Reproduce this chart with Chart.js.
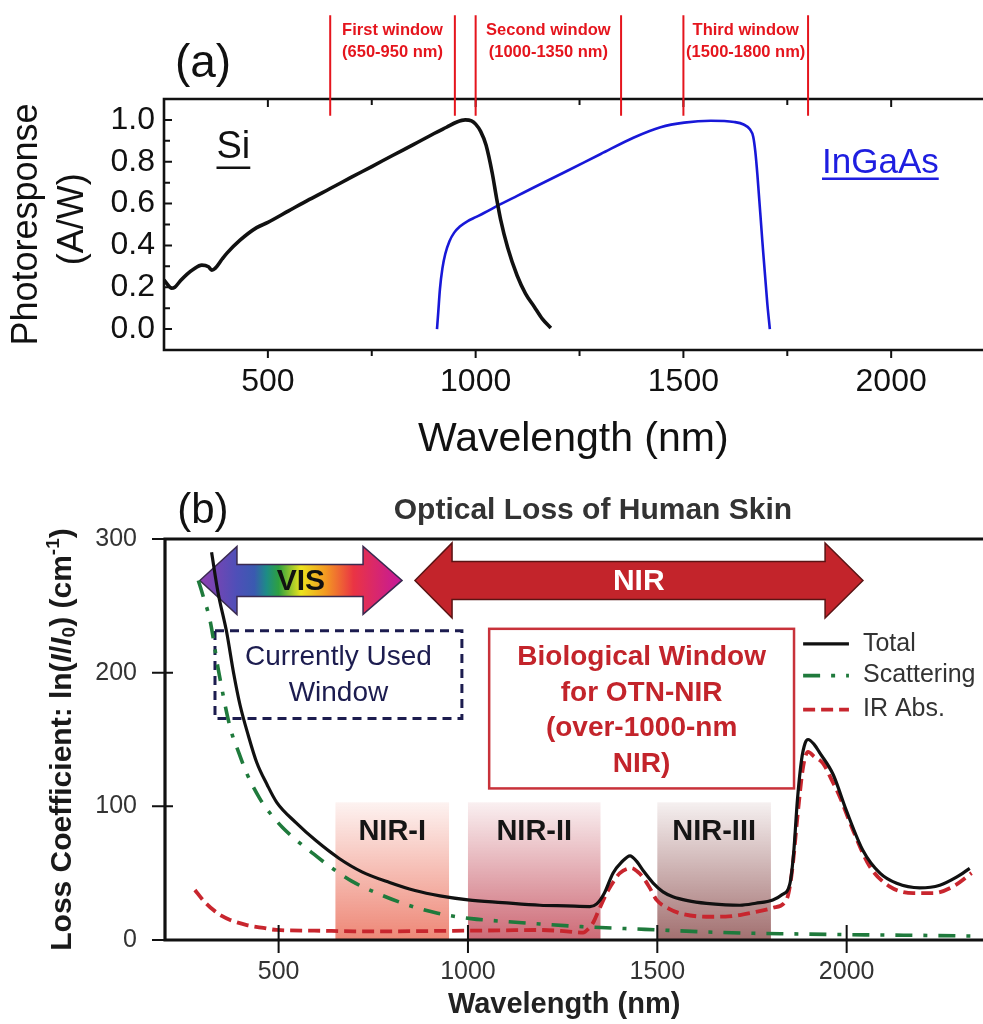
<!DOCTYPE html>
<html>
<head>
<meta charset="utf-8">
<script src="https://cdn.jsdelivr.net/npm/chart.js@4.4.1/dist/chart.umd.min.js"></script>
<style>
body{margin:0;background:#fff;}
#wrap{position:relative;width:983px;height:1024px;overflow:hidden;}
canvas{position:absolute;left:0;}
#canvasA{top:0;}
#canvasB{top:470px;}
</style>
</head>
<body>
<div id="wrap">
<canvas id="canvasA" width="983" height="470"></canvas>
<canvas id="canvasB" width="983" height="554"></canvas>
</div>
<script>
// ---- panel (a): photoresponse ----
const siWavelength = [250,262,268,276,290,305,320,341,357,365,373,390,401,433,473,500,550,600,650,700,750,800,850,900,930,955,975,990,1000,1012,1025,1040,1050,1060,1077,1100,1120,1141,1160,1181];
const siResponse   = [0.235,0.205,0.195,0.2,0.232,0.262,0.285,0.306,0.298,0.282,0.29,0.335,0.362,0.425,0.485,0.51,0.565,0.62,0.672,0.725,0.777,0.83,0.882,0.935,0.965,0.99,1.0,0.995,0.98,0.945,0.88,0.745,0.63,0.525,0.39,0.255,0.17,0.107,0.05,0.005];

const ingaasWavelength = [907,910,914,920,927,937,948,962,980,1000,1020,1060,1100,1141,1221,1301,1381,1445,1502,1566,1622,1645,1660,1668,1673,1678,1690,1702,1708];
const ingaasResponse   = [0.0,0.08,0.19,0.29,0.36,0.42,0.46,0.49,0.515,0.535,0.555,0.597,0.637,0.678,0.757,0.837,0.916,0.965,0.987,0.996,0.99,0.978,0.955,0.92,0.85,0.74,0.42,0.12,0.0];

const windowEdges  = [650, 950, 1000, 1350, 1500, 1800];
const windowNames  = ['First window', 'Second window', 'Third window'];
const windowRanges = ['(650-950 nm)', '(1000-1350 nm)', '(1500-1800 nm)'];

const ticksAx = [500, 1000, 1500, 2000];
const ticksAy = [0, 0.2, 0.4, 0.6, 0.8, 1.0];

// ---- panel (b): optical loss of human skin ----
const totalWavelength = [323,340,363,381,398,420,442,470,495,545,600,660,720,793,860,926,1000,1091,1190,1260,1322,1340,1360,1383,1405,1428,1445,1465,1489,1515,1541,1580,1630,1680,1718,1760,1805,1830,1850,1860,1870,1881,1890,1898,1915,1929,1964,1999,2043,2088,2132,2193,2246,2290,2325];
const totalLoss       = [290,260,230,200,176,153,133,116,103,88,74,61,51,43,37,33,30,28,26,25.5,25,27,35,50,58,63,59,51,42.6,36,32.4,29.5,27.4,26.3,26,27.5,30,34,42,65,105,135,147,150,146,140,124,97,67,50,42.4,39,41,47,53.6];

const scatterWavelength = [288,300,319,341,372,395,416,450,477,511,550,594,640,693,760,843,920,1008,1090,1190,1300,1420,1506,1630,1755,1880,2003,2150,2330];
const scatterLoss       = [269,258,239,202,159,140,124.6,106,95,84,74,64,54,44,35,26,20,16,14,12,10,8.5,7.5,6,5,4.5,4,3.6,3];

const irWavelength = [279,300,328,350,372,416,460,495,594,700,800,926,1000,1091,1190,1260,1304,1320,1330,1345,1366,1385,1401,1432,1448,1462,1480,1498,1530,1560,1630,1680,1718,1760,1805,1841,1850,1858,1871,1885,1898,1915,1938,1960,1982,2017,2061,2114,2176,2228,2281,2330];
const irLoss       = [37.4,30,22.4,18,15,11.2,9,7.5,7,6.5,6.5,6.8,7,7.2,7.5,6.5,5.5,9,12.7,22,35,44,50,53.8,51,47,39,30,23.5,20,17.4,17.5,18.7,21,24,30,40,57,95,129.5,140.7,137,132,120,107,82,55,40,35,35,40,50];

const nirBands     = [[650, 950], [1000, 1350], [1500, 1800]];
const nirBandNames = ['NIR-I', 'NIR-II', 'NIR-III'];
const seriesNames  = ['Total', 'Scattering', 'IR Abs.'];

const ticksBx = [500, 1000, 1500, 2000];
const ticksBy = [0, 100, 200, 300];

const FONT = '"Liberation Sans", Arial, Helvetica, sans-serif';
Chart.defaults.font.family = FONT;

function toPoints(xs, ys){
    let arr = [];
    for (let i = 0; i < xs.length; i++){
        arr.push({x: xs[i], y: ys[i]});
    }
    return arr;
}

function text(ctx, str, x, y, font, color, align){
    ctx.font = font;
    ctx.fillStyle = color;
    ctx.textAlign = align || 'center';
    ctx.textBaseline = 'middle';
    ctx.fillText(str, x, y);
}

function underline(ctx, str, x, y, font, color, lw){
    ctx.font = font;
    let w = ctx.measureText(str).width;
    ctx.strokeStyle = color;
    ctx.lineWidth = lw;
    ctx.setLineDash([]);
    ctx.beginPath();
    ctx.moveTo(x - w / 2, y);
    ctx.lineTo(x + w / 2, y);
    ctx.stroke();
}

// text made of pieces (italic, sub/superscript), centred on cx,cy and rotated
function richText(ctx, parts, cx, cy, angle, color){
    ctx.save();
    ctx.translate(cx, cy);
    ctx.rotate(angle);
    ctx.fillStyle = color;
    ctx.textAlign = 'left';
    ctx.textBaseline = 'middle';
    let total = 0;
    parts.forEach(p => { ctx.font = p.font; p.w = ctx.measureText(p.t).width; total += p.w; });
    let x = -total / 2;
    parts.forEach(p => { ctx.font = p.font; ctx.fillText(p.t, x, p.dy || 0); x += p.w; });
    ctx.restore();
}

function doubleArrow(ctx, tipL, backL, backR, tipR, yc, shaft, head, fill, stroke){
    ctx.beginPath();
    ctx.moveTo(tipL, yc);
    ctx.lineTo(backL, yc - head / 2);
    ctx.lineTo(backL, yc - shaft / 2);
    ctx.lineTo(backR, yc - shaft / 2);
    ctx.lineTo(backR, yc - head / 2);
    ctx.lineTo(tipR, yc);
    ctx.lineTo(backR, yc + head / 2);
    ctx.lineTo(backR, yc + shaft / 2);
    ctx.lineTo(backL, yc + shaft / 2);
    ctx.lineTo(backL, yc + head / 2);
    ctx.closePath();
    ctx.fillStyle = fill;
    ctx.fill();
    ctx.setLineDash([]);
    ctx.strokeStyle = stroke;
    ctx.lineWidth = 1.5;
    ctx.stroke();
}

// ---------- panel (a) decorations ----------
const panelA = {
    id: 'panelA',
    afterDraw(chart){
        const ctx = chart.ctx, a = chart.chartArea;
        const px = v => chart.scales.x.getPixelForValue(v);
        const py = v => chart.scales.y.getPixelForValue(v);
        ctx.save();

        // frame
        ctx.strokeStyle = '#111';
        ctx.lineWidth = 2.6;
        ctx.beginPath();
        ctx.moveTo(a.right, a.top);
        ctx.lineTo(a.left, a.top);
        ctx.lineTo(a.left, a.bottom);
        ctx.lineTo(a.right, a.bottom);
        ctx.stroke();

        // ticks: bottom outward, top and left inward
        ctx.lineWidth = 2;
        ctx.beginPath();
        for (let v = 500; v < chart.scales.x.max; v += 250){
            let len = v % 500 === 0 ? 8 : 6;
            ctx.moveTo(px(v), a.bottom); ctx.lineTo(px(v), a.bottom + len);
            ctx.moveTo(px(v), a.top);    ctx.lineTo(px(v), a.top + len);
        }
        for (let i = 0; i <= 10; i++){
            let len = i % 2 === 0 ? 8 : 6;
            ctx.moveTo(a.left, py(i / 10)); ctx.lineTo(a.left + len, py(i / 10));
        }
        ctx.stroke();

        // optical windows
        ctx.strokeStyle = '#e5151d';
        ctx.lineWidth = 2;
        ctx.beginPath();
        windowEdges.forEach(e => { ctx.moveTo(px(e), py(1.50)); ctx.lineTo(px(e), py(1.02)); });
        ctx.stroke();
        windowNames.forEach((n, i) => {
            let cx = (px(windowEdges[2 * i]) + px(windowEdges[2 * i + 1])) / 2;
            text(ctx, n, cx, py(1.428), 'bold 16.5px ' + FONT, '#e5151d');
            text(ctx, windowRanges[i], cx, py(1.322), 'bold 16.5px ' + FONT, '#e5151d');
        });

        // labels
        text(ctx, '(a)', px(344), py(1.266), '46px ' + FONT, '#111');
        text(ctx, 'Si', px(417), py(0.87), '38px ' + FONT, '#111');
        underline(ctx, 'Si', px(417), py(0.771), '38px ' + FONT, '#111', 2.5);
        text(ctx, 'InGaAs', px(1974), py(0.794), '35px ' + FONT, '#1e1ee0');
        underline(ctx, 'InGaAs', px(1974), py(0.719), '35px ' + FONT, '#1e1ee0', 2.5);

        // axis titles
        text(ctx, 'Wavelength (nm)', px(1235), a.bottom + 90, '41px ' + FONT, '#111');
        ctx.save();
        ctx.translate(27, py(0.5));
        ctx.rotate(-Math.PI / 2);
        text(ctx, 'Photoresponse', 0, 0, '36px ' + FONT, '#111');
        ctx.restore();
        ctx.save();
        ctx.translate(73, py(0.525));
        ctx.rotate(-Math.PI / 2);
        text(ctx, '(A/W)', 0, 0, '36px ' + FONT, '#111');
        ctx.restore();

        ctx.restore();
    }
};

// ---------- panel (b) decorations ----------
const bandColors = ['238,135,118', '205,106,118', '162,112,112'];

const panelB = {
    id: 'panelB',
    beforeDatasetsDraw(chart){
        const ctx = chart.ctx;
        const px = v => chart.scales.x.getPixelForValue(v);
        const py = v => chart.scales.y.getPixelForValue(v);
        ctx.save();

        // NIR-I / II / III bands
        nirBands.forEach((b, i) => {
            let x1 = px(b[0]), x2 = px(b[1]), yt = py(103), yb = py(0);
            let g = ctx.createLinearGradient(0, yt, 0, yb);
            g.addColorStop(0, 'rgba(' + bandColors[i] + ',0.1)');
            g.addColorStop(1, 'rgba(' + bandColors[i] + ',1)');
            ctx.fillStyle = g;
            ctx.fillRect(x1, yt, x2 - x1, yb - yt);
            text(ctx, nirBandNames[i], (x1 + x2) / 2, py(81), 'bold 29px ' + FONT, '#151515');
        });

        // VIS arrow (rainbow) and NIR arrow
        let yc = py(269);
        let g = ctx.createLinearGradient(px(292), 0, px(826), 0);
        g.addColorStop(0.00, '#8e3fb0');
        g.addColorStop(0.18, '#4f4fb8');
        g.addColorStop(0.27, '#3a5ab0');
        g.addColorStop(0.33, '#1d8c86');
        g.addColorStop(0.39, '#2ea040');
        g.addColorStop(0.50, '#ece41e');
        g.addColorStop(0.62, '#f39a22');
        g.addColorStop(0.76, '#ea3444');
        g.addColorStop(1.00, '#c4189c');
        doubleArrow(ctx, px(292), px(390), px(723), px(826), yc, 32, 68, g, '#3a2a50');
        text(ctx, 'VIS', px(559), yc + 1, 'bold 30px ' + FONT, '#111');

        doubleArrow(ctx, px(860), px(958), px(1943), px(2043), yc, 38, 75, '#c3242b', '#5a1414');
        text(ctx, 'NIR', px(1451), yc + 1, 'bold 30px ' + FONT, '#fff');

        // currently used window box
        let bx1 = px(332), bx2 = px(984), by1 = py(231.3), by2 = py(165.7);
        ctx.strokeStyle = '#1c1c4f';
        ctx.lineWidth = 3;
        ctx.setLineDash([9, 6]);
        ctx.strokeRect(bx1, by1, bx2 - bx1, by2 - by1);
        ctx.setLineDash([]);
        let mid = (by1 + by2) / 2;
        text(ctx, 'Currently Used', (bx1 + bx2) / 2, mid - 17, '28px ' + FONT, '#1c1c4f');
        text(ctx, 'Window', (bx1 + bx2) / 2, mid + 19, '28px ' + FONT, '#1c1c4f');

        // biological window box
        bx1 = px(1056); bx2 = px(1861); by1 = py(232.8); by2 = py(113.4);
        ctx.strokeStyle = '#c8323a';
        ctx.lineWidth = 2.5;
        ctx.strokeRect(bx1, by1, bx2 - bx1, by2 - by1);
        mid = (by1 + by2) / 2 + 2;
        ['Biological Window', 'for OTN-NIR', '(over-1000-nm', 'NIR)'].forEach((s, i) => {
            text(ctx, s, (bx1 + bx2) / 2, mid + (i - 1.5) * 35.5, 'bold 28px ' + FONT, '#c3242b');
        });

        ctx.restore();
    },
    afterDraw(chart){
        const ctx = chart.ctx, a = chart.chartArea;
        const px = v => chart.scales.x.getPixelForValue(v);
        const py = v => chart.scales.y.getPixelForValue(v);
        ctx.save();

        // frame
        ctx.strokeStyle = '#111';
        ctx.lineWidth = 3.2;
        ctx.setLineDash([]);
        ctx.beginPath();
        ctx.moveTo(a.right, a.top);
        ctx.lineTo(a.left, a.top);
        ctx.lineTo(a.left, a.bottom);
        ctx.lineTo(a.right, a.bottom);
        ctx.stroke();

        // crossing ticks
        ctx.lineWidth = 2;
        ctx.beginPath();
        ticksBy.forEach(v => { ctx.moveTo(a.left - 13, py(v)); ctx.lineTo(a.left + 8, py(v)); });
        ticksBx.forEach(v => { ctx.moveTo(px(v), a.bottom - 15); ctx.lineTo(px(v), a.bottom + 13); });
        ctx.stroke();

        // titles
        text(ctx, '(b)', px(300), py(321), '42px ' + FONT, '#111');
        text(ctx, 'Optical Loss of Human Skin', px(1330), py(321), 'bold 30px ' + FONT, '#333');
        text(ctx, 'Wavelength (nm)', px(1254), a.bottom + 65, 'bold 29px ' + FONT, '#222');
        const b30 = 'bold 30px ' + FONT, b19 = 'bold 19px ' + FONT, bi30 = 'italic bold 30px ' + FONT;
        richText(ctx, [
            {t: 'Loss Coefficient: ln(', font: b30},
            {t: 'I', font: bi30},
            {t: '/', font: b30},
            {t: 'I', font: bi30},
            {t: '0', font: b19, dy: 7},
            {t: ') (cm', font: b30},
            {t: '-1', font: b19, dy: -9},
            {t: ')', font: b30}
        ], 63, (a.top + a.bottom) / 2, -Math.PI / 2, '#1a1a1a');

        // legend
        const rows = [221.6, 197.8, 172.4];
        chart.data.datasets.forEach((ds, i) => {
            let y = py(rows[i]);
            ctx.strokeStyle = ds.borderColor;
            ctx.lineWidth = ds.borderWidth;
            ctx.setLineDash(ds.borderDash || []);
            ctx.beginPath();
            ctx.moveTo(px(1885), y);
            ctx.lineTo(px(2006), y);
            ctx.stroke();
            ctx.setLineDash([]);
            text(ctx, ds.label, px(2043), y, '25px ' + FONT, '#333', 'left');
        });

        ctx.restore();
    }
};

function buildPanelA(){
    let ctx = document.getElementById('canvasA').getContext('2d');
    new Chart(ctx, {
        type: 'line',
        data: {
            datasets: [{
                label: 'Si',
                data: toPoints(siWavelength, siResponse),
                borderColor: '#111',
                borderWidth: 3.6,
                cubicInterpolationMode: 'monotone',
                fill: false
            }, {
                label: 'InGaAs',
                data: toPoints(ingaasWavelength, ingaasResponse),
                borderColor: '#1818d8',
                borderWidth: 2.6,
                cubicInterpolationMode: 'monotone',
                fill: false
            }]
        },
        options: {
            responsive: false,
            animation: false,
            devicePixelRatio: 1,
            layout: {padding: {top: 99, left: 0, right: 0, bottom: 0}},
            elements: {point: {radius: 0}},
            plugins: {legend: {display: false}, tooltip: {enabled: false}},
            scales: {
                x: {
                    type: 'linear', min: 250, max: 2221,
                    grid: {display: false, drawTicks: false},
                    border: {display: false},
                    afterBuildTicks: s => { s.ticks = ticksAx.map(v => ({value: v})); },
                    afterFit: s => { s.height = 120; },
                    ticks: {autoSkip: false, maxRotation: 0, padding: 13, color: '#111', font: {size: 32}, callback: v => String(v)}
                },
                y: {
                    type: 'linear', min: -0.1, max: 1.1,
                    grid: {display: false, drawTicks: false},
                    border: {display: false},
                    afterBuildTicks: s => { s.ticks = ticksAy.map(v => ({value: v})); },
                    afterFit: s => { s.width = 164; },
                    ticks: {padding: 9, color: '#111', font: {size: 32}, callback: v => v.toFixed(1)}
                }
            }
        },
        plugins: [panelA]
    });
}

function buildPanelB(){
    let ctx = document.getElementById('canvasB').getContext('2d');
    new Chart(ctx, {
        type: 'line',
        data: {
            datasets: [{
                label: seriesNames[0],
                data: toPoints(totalWavelength, totalLoss),
                borderColor: '#111',
                borderWidth: 3.2,
                cubicInterpolationMode: 'monotone',
                fill: false
            }, {
                label: seriesNames[1],
                data: toPoints(scatterWavelength, scatterLoss),
                borderColor: '#1f7a3c',
                borderWidth: 3.6,
                borderDash: [17, 11, 4, 11],
                cubicInterpolationMode: 'monotone',
                fill: false
            }, {
                label: seriesNames[2],
                data: toPoints(irWavelength, irLoss),
                borderColor: '#c8262e',
                borderWidth: 3.8,
                borderDash: [12, 6],
                cubicInterpolationMode: 'monotone',
                fill: false
            }]
        },
        options: {
            responsive: false,
            animation: false,
            devicePixelRatio: 1,
            layout: {padding: {top: 69, left: 0, right: 0, bottom: 0}},
            elements: {point: {radius: 0}},
            plugins: {legend: {display: false}, tooltip: {enabled: false}},
            scales: {
                x: {
                    type: 'linear', min: 200, max: 2360,
                    grid: {display: false, drawTicks: false},
                    border: {display: false},
                    afterBuildTicks: s => { s.ticks = ticksBx.map(v => ({value: v})); },
                    afterFit: s => { s.height = 84; },
                    ticks: {autoSkip: false, maxRotation: 0, padding: 17, color: '#333', font: {size: 25}, callback: v => String(v)}
                },
                y: {
                    type: 'linear', min: 0, max: 300,
                    grid: {display: false, drawTicks: false},
                    border: {display: false},
                    afterBuildTicks: s => { s.ticks = ticksBy.map(v => ({value: v})); },
                    afterFit: s => { s.width = 165; },
                    ticks: {padding: 28, color: '#333', font: {size: 25}, callback: v => String(v)}
                }
            }
        },
        plugins: [panelB]
    });
}

buildPanelA();
buildPanelB();
</script>
</body>
</html>
